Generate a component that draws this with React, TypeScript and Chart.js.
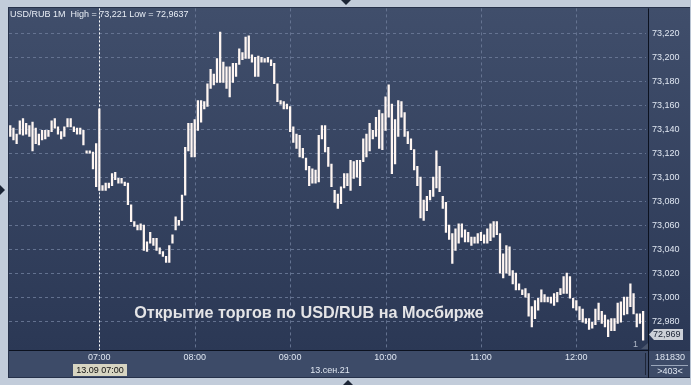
import React, { useEffect, useRef } from 'react';
import { Chart, registerables } from 'chart.js';

Chart.register(...registerables);

// 2-minute bars starting 06:04 (minutes since midnight)
const startMinute = 364;
const stepMinutes = 2;

const highs = [
  73.143, 73.141, 73.136, 73.147, 73.149, 73.145, 73.143, 73.146, 73.141, 73.136,
  73.139, 73.139, 73.139, 73.147, 73.149, 73.142, 73.138, 73.142, 73.149, 73.149,
  73.142, 73.141, 73.141, 73.139, 73.122, 73.122, 73.121, 73.128, 73.157, 73.093,
  73.095, 73.095, 73.103, 73.104, 73.099, 73.099, 73.096, 73.095, 73.077, 73.063,
  73.060, 73.061, 73.060, 73.046, 73.054, 73.049, 73.049, 73.041, 73.038, 73.034,
  73.043, 73.052, 73.067, 73.064, 73.085, 73.125, 73.145, 73.145, 73.148, 73.164,
  73.164, 73.163, 73.178, 73.190, 73.186, 73.199, 73.221, 73.196, 73.192, 73.192,
  73.195, 73.195, 73.207, 73.204, 73.217, 73.218, 73.202, 73.200, 73.201, 73.200,
  73.199, 73.200, 73.198, 73.195, 73.178, 73.164, 73.163, 73.161, 73.159, 73.142,
  73.136, 73.135, 73.124, 73.116, 73.109, 73.107, 73.106, 73.135, 73.143, 73.143,
  73.125, 73.111, 73.089, 73.086, 73.092, 73.103, 73.103, 73.114, 73.113, 73.114,
  73.114, 73.132, 73.136, 73.145, 73.139, 73.150, 73.156, 73.153, 73.167, 73.177,
  73.161, 73.148, 73.164, 73.163, 73.154, 73.138, 73.132, 73.123, 73.109, 73.100,
  73.081, 73.084, 73.089, 73.100, 73.122, 73.109, 73.084, 73.079, 73.060, 73.053,
  73.057, 73.061, 73.061, 73.056, 73.054, 73.050, 73.050, 73.053, 73.054, 73.052,
  73.057, 73.061, 73.063, 73.063, 73.053, 73.036, 73.043, 73.042, 73.022, 73.020,
  73.011, 73.006, 73.007, 73.003, 72.992, 72.997, 72.999, 73.006, 73.002, 73.000,
  73.000, 73.003, 73.004, 73.007, 73.017, 73.020, 73.017, 72.999, 72.997, 72.992,
  72.990, 72.982, 72.982, 72.979, 72.990, 72.995, 72.988, 72.985, 72.981, 72.982,
  72.982, 72.995, 72.996, 73.000, 73.000, 73.011, 73.003, 72.986, 72.986, 72.988,
];

const lows = [
  73.134, 73.131, 73.128, 73.136, 73.135, 73.136, 73.134, 73.122, 73.128, 73.127,
  73.131, 73.132, 73.134, 73.138, 73.141, 73.136, 73.132, 73.134, 73.142, 73.142,
  73.138, 73.136, 73.136, 73.127, 73.120, 73.120, 73.107, 73.092, 73.089, 73.089,
  73.089, 73.091, 73.093, 73.098, 73.095, 73.095, 73.093, 73.077, 73.063, 73.059,
  73.056, 73.056, 73.039, 73.038, 73.045, 73.043, 73.039, 73.036, 73.034, 73.029,
  73.029, 73.045, 73.056, 73.060, 73.064, 73.085, 73.122, 73.117, 73.117, 73.139,
  73.146, 73.157, 73.159, 73.174, 73.177, 73.179, 73.179, 73.179, 73.174, 73.167,
  73.179, 73.184, 73.194, 73.198, 73.199, 73.199, 73.196, 73.184, 73.184, 73.196,
  73.196, 73.196, 73.193, 73.178, 73.163, 73.161, 73.157, 73.157, 73.138, 73.129,
  73.124, 73.117, 73.116, 73.106, 73.093, 73.095, 73.095, 73.096, 73.132, 73.121,
  73.109, 73.092, 73.079, 73.074, 73.078, 73.091, 73.093, 73.089, 73.099, 73.100,
  73.093, 73.113, 73.117, 73.122, 73.132, 73.134, 73.124, 73.123, 73.139, 73.150,
  73.103, 73.111, 73.134, 73.150, 73.134, 73.128, 73.123, 73.106, 73.093, 73.066,
  73.064, 73.072, 73.081, 73.084, 73.091, 73.088, 73.074, 73.054, 73.048, 73.028,
  73.039, 73.045, 73.050, 73.046, 73.046, 73.043, 73.045, 73.045, 73.047, 73.045,
  73.045, 73.047, 73.050, 73.052, 73.020, 73.016, 73.020, 73.018, 73.011, 73.006,
  73.006, 73.002, 73.000, 72.984, 72.975, 72.982, 72.989, 72.996, 72.996, 72.996,
  72.995, 72.993, 72.996, 73.002, 73.003, 73.003, 72.999, 72.991, 72.989, 72.981,
  72.979, 72.978, 72.973, 72.974, 72.977, 72.981, 72.978, 72.975, 72.967, 72.972,
  72.972, 72.978, 72.979, 72.985, 72.986, 72.992, 72.986, 72.975, 72.978, 72.964,
];

const yTicks = [72.98, 73.0, 73.02, 73.04, 73.06, 73.08, 73.1, 73.12, 73.14, 73.16, 73.18, 73.2, 73.22];
const hourTicks = [420, 480, 540, 600, 660, 720];
const cursorMinute = 420;
const lastPrice = 72.969;

const titleText = 'USD/RUB 1M  High = 73,221 Low = 72,9637';
const captionText = 'Открытие торгов по USD/RUB на Мосбирже';
const dateText = '13.сен.21';
const cursorText = '13.09 07:00';
const volumeText = '181830';
const countText = '>403<';

const FONT = '"Liberation Sans", Arial, sans-serif';

const pad2 = (n: number) => String(n).padStart(2, '0');
const fmtTime = (m: number) => `${pad2(Math.floor(m / 60))}:${pad2(Math.round(m % 60))}`;
const fmtPrice = (v: number) => Number(v).toFixed(3).replace('.', ',');

const framePlugin = {
  id: 'frame',
  beforeDraw(chart: any) {
    const { ctx, width, height, chartArea: ca } = chart;
    ctx.save();
    ctx.fillStyle = '#c2ccda';
    ctx.fillRect(0, 0, width, height);
    ctx.fillStyle = '#26314a';
    ctx.fillRect(8, 7, width - 8, 378 - 7);
    const g = ctx.createLinearGradient(0, ca.top, 0, ca.bottom);
    g.addColorStop(0, '#404e6b');
    g.addColorStop(1, '#2b3855');
    ctx.fillStyle = g;
    ctx.fillRect(9, 8, width - 9, ca.bottom - 8);
    ctx.fillStyle = '#3d4b68';
    ctx.fillRect(9, ca.bottom + 1, width - 9, 377 - ca.bottom - 1);
    ctx.fillStyle = '#b8c3d2';
    ctx.fillRect(width - 1, 7, 1, 371);
    // frame triangles
    ctx.fillStyle = '#1c2536';
    ctx.beginPath(); ctx.moveTo(341, 0); ctx.lineTo(351, 0); ctx.lineTo(346, 5); ctx.closePath(); ctx.fill();
    ctx.beginPath(); ctx.moveTo(0, 185); ctx.lineTo(0, 195); ctx.lineTo(5, 190); ctx.closePath(); ctx.fill();
    ctx.beginPath(); ctx.moveTo(343, 385); ctx.lineTo(353, 385); ctx.lineTo(348, 380); ctx.closePath(); ctx.fill();
    ctx.restore();
  },
  beforeDatasetsDraw(chart: any) {
    const { ctx, chartArea: ca, scales } = chart;
    ctx.save();
    ctx.strokeStyle = 'rgba(105,120,150,0.9)';
    ctx.lineWidth = 1;
    ctx.setLineDash([3, 3]);
    yTicks.forEach((v) => {
      const y = Math.round(scales.y.getPixelForValue(v)) + 0.5;
      ctx.beginPath(); ctx.moveTo(ca.left, y); ctx.lineTo(ca.right - 3, y); ctx.stroke();
    });
    hourTicks.forEach((m) => {
      const x = Math.round(scales.x.getPixelForValue(m)) + 0.5;
      ctx.beginPath(); ctx.moveTo(x, ca.top); ctx.lineTo(x, ca.bottom); ctx.stroke();
    });
    ctx.restore();
  },
  afterDatasetsDraw(chart: any) {
    const { ctx, chartArea: ca, scales } = chart;
    ctx.save();
    // cursor line
    const cx = Math.round(scales.x.getPixelForValue(cursorMinute)) + 0.5;
    ctx.strokeStyle = '#ffffff';
    ctx.lineWidth = 1;
    ctx.setLineDash([2, 2]);
    ctx.beginPath(); ctx.moveTo(cx, ca.top); ctx.lineTo(cx, ca.bottom); ctx.stroke();
    ctx.setLineDash([]);
    // axis lines
    ctx.strokeStyle = '#0c1220';
    ctx.beginPath(); ctx.moveTo(ca.left, ca.bottom + 0.5); ctx.lineTo(ca.right, ca.bottom + 0.5); ctx.stroke();
    ctx.beginPath(); ctx.moveTo(ca.right - 0.5, ca.top); ctx.lineTo(ca.right - 0.5, 378); ctx.stroke();
    ctx.strokeStyle = '#1e2638';
    ctx.beginPath(); ctx.moveTo(645.5, ca.bottom + 3); ctx.lineTo(645.5, 375); ctx.stroke();
    ctx.strokeStyle = '#9aa6ba';
    ctx.beginPath(); ctx.moveTo(651, 365.5); ctx.lineTo(688, 365.5); ctx.stroke();

    // title
    ctx.fillStyle = '#e8edf5';
    ctx.font = `9px ${FONT}`;
    ctx.textBaseline = 'middle';
    ctx.textAlign = 'left';
    ctx.fillText(titleText, 10, 15);

    // caption
    ctx.fillStyle = '#e4e4e6';
    ctx.font = `bold 16.2px ${FONT}`;
    ctx.textAlign = 'center';
    ctx.fillText(captionText, 309, 314);

    // "1" marker
    ctx.fillStyle = '#b0b9c8';
    ctx.font = `9px ${FONT}`;
    ctx.textAlign = 'left';
    ctx.fillText('1', 633, 345);
    ctx.fillStyle = '#4a566e';
    ctx.beginPath(); ctx.moveTo(641, 349); ctx.lineTo(648, 349); ctx.lineTo(648, 343); ctx.closePath(); ctx.fill();

    // last price marker
    const ly = Math.round(scales.y.getPixelForValue(lastPrice)) + 0.5;
    ctx.fillStyle = '#cdd1d8';
    ctx.beginPath();
    ctx.moveTo(649, ly);
    ctx.lineTo(654, ly - 5.5);
    ctx.lineTo(683, ly - 5.5);
    ctx.lineTo(683, ly + 5.5);
    ctx.lineTo(654, ly + 5.5);
    ctx.closePath();
    ctx.fill();
    ctx.fillStyle = '#1a2233';
    ctx.font = `9px ${FONT}`;
    ctx.textAlign = 'left';
    ctx.fillText(fmtPrice(lastPrice), 653, ly + 0.5);

    // bottom band texts
    ctx.fillStyle = '#d7d5c2';
    ctx.fillRect(73, 364, 54, 12);
    ctx.fillStyle = '#111111';
    ctx.textAlign = 'center';
    ctx.fillText(cursorText, 100, 370.5);
    ctx.fillStyle = '#dfe6f1';
    ctx.fillText(dateText, 330, 370.5);
    ctx.fillText(volumeText, 670, 358);
    ctx.fillText(countText, 670, 372);
    ctx.restore();
  },
};

export default function App() {
  const canvasRef = useRef<HTMLCanvasElement | null>(null);

  useEffect(() => {
    const canvas = canvasRef.current;
    if (!canvas) return;
    const data = lows.map((lo, i) => ({ x: startMinute + stepMinutes * i, y: [lo, highs[i]] }));
    const chart = new Chart(canvas, {
      type: 'bar',
      data: {
        datasets: [
          {
            data: data as any,
            backgroundColor: '#fff6f2',
            borderWidth: 0,
            barThickness: 1.6,
          },
        ],
      },
      options: {
        animation: false,
        responsive: false,
        events: [],
        layout: { padding: { left: 9, top: 8, right: 0, bottom: 8 } },
        plugins: { legend: { display: false }, tooltip: { enabled: false } },
        scales: {
          x: {
            type: 'linear',
            min: 363.2,
            max: 765.7,
            offset: false,
            grid: { display: false, drawTicks: false, offset: false },
            border: { display: false },
            afterBuildTicks: (scale: any) => {
              scale.ticks = hourTicks.map((v) => ({ value: v }));
            },
            afterFit: (scale: any) => {
              scale.height = 27;
            },
            ticks: {
              autoSkip: false,
              maxRotation: 0,
              padding: 2,
              color: '#dfe6f1',
              font: { family: FONT, size: 9 },
              callback: (v: any) => fmtTime(Number(v)),
            },
          },
          y: {
            type: 'linear',
            position: 'right',
            min: 72.95583,
            max: 73.24083,
            grid: { display: false, drawTicks: false },
            border: { display: false },
            afterBuildTicks: (scale: any) => {
              scale.ticks = yTicks.map((v) => ({ value: v }));
            },
            afterFit: (scale: any) => {
              scale.width = 42;
            },
            ticks: {
              autoSkip: false,
              padding: 3,
              color: '#dfe6f1',
              font: { family: FONT, size: 9 },
              callback: (v: any) => fmtPrice(Number(v)),
            },
          },
        },
      },
      plugins: [framePlugin],
    });
    return () => chart.destroy();
  }, []);

  return (
    <div style={{ position: 'fixed', left: 0, top: 0, width: 691, height: 385 }}>
      <canvas ref={canvasRef} width={691} height={385} style={{ display: 'block' }} />
    </div>
  );
}
